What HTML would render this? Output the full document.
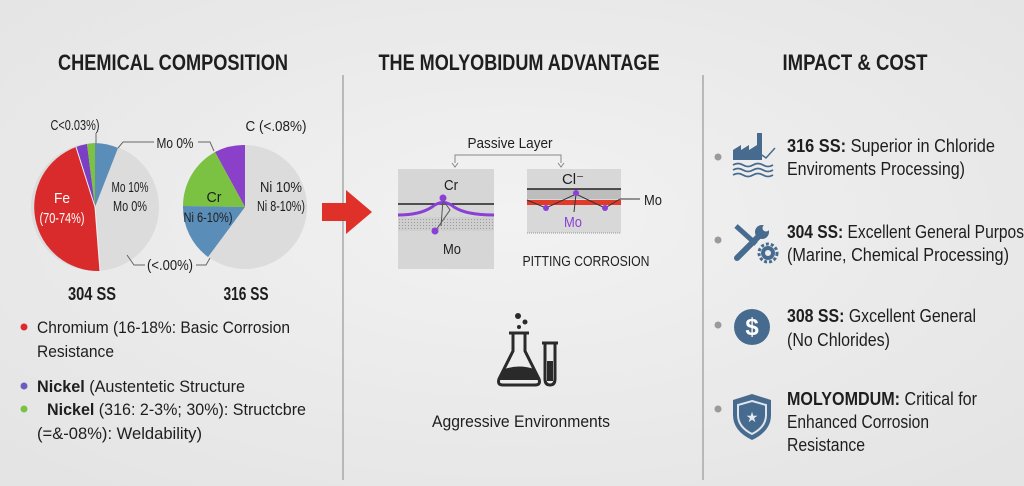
<!DOCTYPE html>
<html><head><meta charset="utf-8"><style>
html,body{margin:0;padding:0;width:1024px;height:486px;overflow:hidden;background:#ececec}
svg{display:block}
text{font-family:"Liberation Sans Narrow","Liberation Sans",sans-serif;fill:#1e1e1e}
</style></head><body>
<svg width="1024" height="486" viewBox="0 0 1024 486" xmlns="http://www.w3.org/2000/svg">
<defs>
<radialGradient id="bg" cx="50%" cy="45%" r="70%"><stop offset="0" stop-color="#f2f2f2"/><stop offset="1" stop-color="#e4e4e4"/></radialGradient>
<pattern id="dots" width="3" height="3" patternUnits="userSpaceOnUse"><rect width="3" height="3" fill="#cfcfcf"/><rect width="1" height="1" fill="#9a9a9a"/></pattern>
</defs>
<rect width="1024" height="486" fill="url(#bg)"/>
<line x1="343" y1="75" x2="343" y2="480" stroke="#a8a8a8" stroke-width="1.5"/>
<line x1="703" y1="75" x2="703" y2="480" stroke="#a8a8a8" stroke-width="1.5"/>
<g font-weight="bold" font-size="22" text-anchor="middle" lengthAdjust="spacingAndGlyphs">
<text x="173" y="70" textLength="230" lengthAdjust="spacingAndGlyphs">CHEMICAL COMPOSITION</text>
<text x="519" y="70" textLength="281" lengthAdjust="spacingAndGlyphs">THE MOLYOBIDUM ADVANTAGE</text>
<text x="855" y="70" textLength="145" lengthAdjust="spacingAndGlyphs">IMPACT &amp; COST</text>
</g>
<!-- Pie 304 -->
<circle cx="95" cy="207" r="64" fill="#dcdcdc"/>
<path d="M95,207 L76,147 A64,64 0 0 0 100,271 Z" fill="#d92b2b"/>
<path d="M95,207 L87,144 A64,64 0 0 0 76,147 Z" fill="#7a3fc2"/>
<path d="M95,207 L95,143 A64,64 0 0 0 87,144 Z" fill="#7cc242"/>
<path d="M95,207 L118,148 A64,64 0 0 0 95,143 Z" fill="#5a8db7"/>
<g stroke="#f2f2f2" stroke-width="1"><line x1="95" y1="207" x2="76" y2="147"/><line x1="95" y1="207" x2="100" y2="271"/></g>
<text x="62" y="203" font-size="15" style="fill:#fff" text-anchor="middle" textLength="16" lengthAdjust="spacingAndGlyphs">Fe</text>
<text x="62" y="223" font-size="15" style="fill:#fff" text-anchor="middle" textLength="45" lengthAdjust="spacingAndGlyphs">(70-74%)</text>
<text x="130" y="192" font-size="15" text-anchor="middle" textLength="37" lengthAdjust="spacingAndGlyphs">Mo 10%</text>
<text x="130" y="211" font-size="15" text-anchor="middle" textLength="34" lengthAdjust="spacingAndGlyphs">Mo 0%</text>
<text x="75" y="130" font-size="15" text-anchor="middle" textLength="49" lengthAdjust="spacingAndGlyphs">C&lt;0.03%)</text>
<line x1="96" y1="133" x2="96" y2="143" stroke="#666"/>
<text x="175" y="148" font-size="15" text-anchor="middle" textLength="37" lengthAdjust="spacingAndGlyphs">Mo 0%</text>
<polyline points="118,148 123,142 154,142" fill="none" stroke="#666"/>
<polyline points="198,142 210,142 214,151" fill="none" stroke="#666"/>
<!-- Pie 316 -->
<circle cx="245" cy="207" r="62" fill="#dcdcdc"/>
<path d="M245,207 L245,145 A62,62 0 0 0 215,152 Z" fill="#8a40c8"/>
<path d="M245,207 L215,152 A62,62 0 0 0 183,206 Z" fill="#7cc242"/>
<path d="M245,207 L183,206 A62,62 0 0 0 208,257 Z" fill="#5a8db7"/>
<text x="214" y="202" font-size="15" text-anchor="middle" textLength="15" lengthAdjust="spacingAndGlyphs">Cr</text>
<text x="208" y="222" font-size="14" text-anchor="middle" textLength="49" lengthAdjust="spacingAndGlyphs">Ni 6-10%)</text>
<text x="281" y="192" font-size="15" text-anchor="middle" textLength="42" lengthAdjust="spacingAndGlyphs">Ni 10%</text>
<text x="281" y="211" font-size="15" text-anchor="middle" textLength="48" lengthAdjust="spacingAndGlyphs">Ni 8-10%)</text>
<text x="276" y="131" font-size="15" text-anchor="middle" textLength="61" lengthAdjust="spacingAndGlyphs">C (&lt;.08%)</text>
<text x="170" y="270" font-size="15" text-anchor="middle" textLength="46" lengthAdjust="spacingAndGlyphs">(&lt;.00%)</text>
<polyline points="127,255 134,265 145,265" fill="none" stroke="#666"/>
<polyline points="196,265 206,265 210,258" fill="none" stroke="#666"/>
<text x="92" y="300" font-size="18" font-weight="bold" text-anchor="middle" textLength="48" lengthAdjust="spacingAndGlyphs">304 SS</text>
<text x="246" y="300" font-size="18" font-weight="bold" text-anchor="middle" textLength="45" lengthAdjust="spacingAndGlyphs">316 SS</text>
<!-- left list -->
<circle cx="24" cy="327" r="3.5" fill="#e02a2a"/>
<circle cx="24" cy="386" r="3.5" fill="#6a5fc0"/>
<circle cx="24" cy="409" r="3.5" fill="#7cc242"/>
<g font-size="17">
<text x="37" y="333" textLength="253" lengthAdjust="spacingAndGlyphs">Chromium (16-18%: Basic Corrosion</text>
<text x="37" y="357" textLength="77" lengthAdjust="spacingAndGlyphs">Resistance</text>
<text x="37" y="392" textLength="208" lengthAdjust="spacingAndGlyphs"><tspan font-weight="bold">Nickel</tspan> (Austentetic Structure</text>
<text x="47" y="415" textLength="259" lengthAdjust="spacingAndGlyphs"><tspan font-weight="bold">Nickel</tspan> (316: 2-3%; 30%): Structcbre</text>
<text x="37" y="439" textLength="165" lengthAdjust="spacingAndGlyphs">(=&amp;-08%): Weldability)</text>
</g>
<!-- arrow -->
<path d="M322,203 H346 V190 L372,212 L346,234 V221 H322 Z" fill="#e0302a"/>
<!-- passive layer -->
<text x="510" y="148" font-size="15" text-anchor="middle" textLength="85" lengthAdjust="spacingAndGlyphs">Passive Layer</text>
<polyline points="455,163 455,155 561,155 561,163" fill="none" stroke="#888"/>
<path d="M452,163 L455,167 L458,163 M558,163 L561,167 L564,163" fill="none" stroke="#888"/>
<rect x="398" y="169" width="96" height="100" fill="#d6d6d6"/>
<rect x="398" y="217" width="96" height="14" fill="url(#dots)"/>
<line x1="398" y1="204" x2="494" y2="204" stroke="#222" stroke-width="1.5"/>
<path d="M398,215 Q420,215 432,207 Q443,198 454,207 Q466,215 494,215" fill="none" stroke="#8a3fd6" stroke-width="3"/>
<path d="M443,200 L441,226 M443,200 L450,210 L436,230" fill="none" stroke="#555" stroke-width="1"/>
<circle cx="443" cy="198" r="3.5" fill="#8a3fd6"/><circle cx="435" cy="231" r="3.5" fill="#8a3fd6"/>
<text x="451" y="190" font-size="15" text-anchor="middle" textLength="14" lengthAdjust="spacingAndGlyphs">Cr</text>
<text x="452" y="254" font-size="15" text-anchor="middle" textLength="18" lengthAdjust="spacingAndGlyphs">Mo</text>
<rect x="527" y="169" width="94" height="64" fill="#d8d8d8"/>
<rect x="527" y="189" width="94" height="10" fill="#bdbdbd"/>
<rect x="527" y="200" width="94" height="5" fill="#e23a2a"/>
<line x1="527" y1="189" x2="621" y2="189" stroke="#222" stroke-width="1.5"/>
<line x1="527" y1="233" x2="621" y2="233" stroke="#999" stroke-dasharray="1,1"/>
<polyline points="527,200 546,208 576,194 605,208 620,199" fill="none" stroke="#333" stroke-width="1"/>
<line x1="576" y1="194" x2="574" y2="212" stroke="#333"/>
<line x1="620" y1="199" x2="640" y2="199" stroke="#333"/>
<circle cx="546" cy="208" r="3" fill="#8a3fd6"/><circle cx="576" cy="193" r="3" fill="#8a3fd6"/><circle cx="605" cy="208" r="3" fill="#8a3fd6"/>
<text x="573" y="184" font-size="15" text-anchor="middle">Cl⁻</text>
<text x="653" y="205" font-size="15" text-anchor="middle" textLength="18" lengthAdjust="spacingAndGlyphs">Mo</text>
<text x="573" y="227" font-size="15" style="fill:#8a3fd6" text-anchor="middle" textLength="18" lengthAdjust="spacingAndGlyphs">Mo</text>
<text x="586" y="266" font-size="15" text-anchor="middle" textLength="127" lengthAdjust="spacingAndGlyphs">PITTING CORROSION</text>
<!-- flask -->
<g fill="#2a2a2a">
<circle cx="518" cy="316" r="3"/><circle cx="525" cy="322" r="2.5"/><circle cx="519" cy="327" r="2"/>
</g>
<path d="M509,333 H529 M513,333 V351 L499,379 Q497,385 503,385 H535 Q541,385 539,379 L525,351 V333" fill="none" stroke="#2a2a2a" stroke-width="3"/>
<path d="M505,369 Q519,364 534,369 L538,380 H500 Z" fill="#2a2a2a"/>
<path d="M542,343 H558 M545,343 V379 Q545,385 550,385 Q555,385 555,379 V343" fill="none" stroke="#2a2a2a" stroke-width="3"/>
<rect x="547" y="361" width="6" height="20" fill="#2a2a2a"/>
<text x="521" y="427" font-size="17" text-anchor="middle" textLength="178" lengthAdjust="spacingAndGlyphs">Aggressive Environments</text>
<!-- right list -->
<g fill="#9a9a9a"><circle cx="718" cy="157" r="3.5"/><circle cx="718" cy="240" r="3.5"/><circle cx="718" cy="325" r="3.5"/><circle cx="718" cy="409" r="3.5"/></g>
<path d="M733,160 V150 L741,145 V150 L749,145 V150 L757,145 V133 H762 V160 Z" fill="#476b8f"/>
<path d="M762,155 L766,158 L775,148" fill="none" stroke="#476b8f" stroke-width="1.5"/>
<path d="M733,165 q5,-3 10,0 t10,0 t10,0 t10,0 M733,170 q5,-3 10,0 t10,0 t10,0 t10,0 M733,175 q5,-3 10,0 t10,0 t10,0 t10,0" fill="none" stroke="#476b8f" stroke-width="1.8"/>
<path d="M737,258 L758,237" stroke="#476b8f" stroke-width="6" stroke-linecap="round"/>
<circle cx="762" cy="232" r="7" fill="#476b8f"/><circle cx="766" cy="228" r="3.5" fill="#ececec"/>
<path d="M736,226 L756,244" stroke="#476b8f" stroke-width="5"/>
<circle cx="768" cy="253" r="7" fill="#476b8f"/><circle cx="768" cy="253" r="3" fill="#ececec"/>
<circle cx="768" cy="253" r="9" fill="none" stroke="#476b8f" stroke-width="3" stroke-dasharray="3,2"/>
<circle cx="752" cy="327" r="18" fill="#476b8f"/>
<text x="752" y="335" font-size="24" font-weight="bold" text-anchor="middle" style="fill:#fff">$</text>
<path d="M752,394 L771,400 V415 Q771,431 752,440 Q733,431 733,415 V400 Z" fill="#476b8f"/>
<path d="M752,401 L766,405 V415 Q766,427 752,434 Q738,427 738,415 V405 Z" fill="none" stroke="#dfe5ec" stroke-width="2"/>
<text x="752" y="422" font-size="14" text-anchor="middle" style="fill:#e5eaf0">★</text>
<g font-size="18">
<text x="787" y="152" textLength="208" lengthAdjust="spacingAndGlyphs"><tspan font-weight="bold">316 SS:</tspan> Superior in Chloride</text>
<text x="787" y="175" textLength="178" lengthAdjust="spacingAndGlyphs">Enviroments Processing)</text>
<text x="787" y="238" textLength="237" lengthAdjust="spacingAndGlyphs"><tspan font-weight="bold">304 SS:</tspan> Excellent General Purpos</text>
<text x="787" y="261" textLength="222" lengthAdjust="spacingAndGlyphs">(Marine, Chemical Processing)</text>
<text x="787" y="322" textLength="189" lengthAdjust="spacingAndGlyphs"><tspan font-weight="bold">308 SS:</tspan> Gxcellent General</text>
<text x="787" y="346" textLength="103" lengthAdjust="spacingAndGlyphs">(No Chlorides)</text>
<text x="787" y="405" textLength="190" lengthAdjust="spacingAndGlyphs"><tspan font-weight="bold">MOLYOMDUM:</tspan> Critical for</text>
<text x="787" y="428" textLength="142" lengthAdjust="spacingAndGlyphs">Enhanced Corrosion</text>
<text x="787" y="451" textLength="78" lengthAdjust="spacingAndGlyphs">Resistance</text>
</g>
</svg>
</body></html>
